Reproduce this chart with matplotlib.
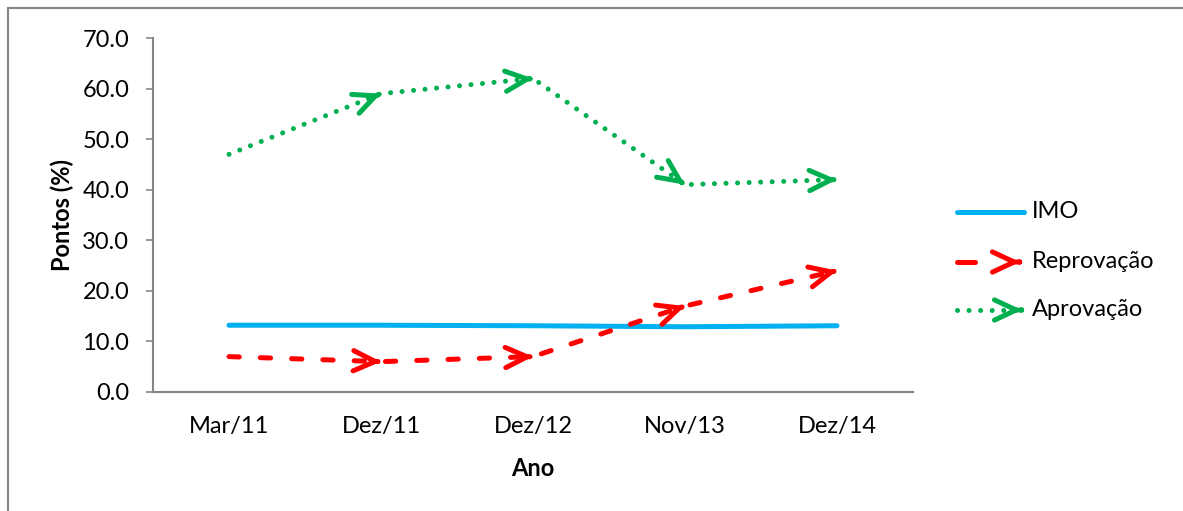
import matplotlib.pyplot as plt
import numpy as np
from matplotlib.lines import Line2D
from matplotlib.patches import Rectangle

plt.rcParams['font.family'] = ['Lato', 'DejaVu Sans']

# data
periodos = ['Mar/11', 'Dez/11', 'Dez/12', 'Nov/13', 'Dez/14']
imo = [13.2, 13.2, 13.1, 12.9, 13.1]
reprovacao = [7.0, 6.0, 7.0, 17.0, 24.0]
aprovacao = [47.0, 59.0, 62.0, 41.0, 42.0]

AZUL = '#00B0F0'
VERMELHO = '#FF0000'
VERDE = '#00B050'
CINZA = '#868686'
LW = 3.6
FS = 17
HEAD = '->,head_length=1.56,head_width=0.73'
DASHED = (0, (2.06, 4.2))
DOTTED = (0, (0.01, 2.3))


def arrow_head(ax, p0, p1, color, coords='data'):
    # tiny shaft along the segment so that only the head shows
    eps = 0.02
    start = (p1[0] - eps * (p1[0] - p0[0]), p1[1] - eps * (p1[1] - p0[1]))
    ax.annotate('', xy=p1, xytext=start, xycoords=coords, textcoords=coords,
                annotation_clip=False,
                arrowprops=dict(arrowstyle=HEAD, lw=LW, color=color,
                                shrinkA=0, shrinkB=0, mutation_scale=10,
                                capstyle='round', joinstyle='round'))


W, H = 1183, 511
fig = plt.figure(figsize=(W / 100, H / 100), dpi=100)
ax = fig.add_axes([153 / W, 1 - 392 / H, 760 / W, 354 / H])

x = np.arange(len(periodos))
ax.plot(x, imo, color=AZUL, lw=LW, solid_capstyle='round')
ax.plot(x, reprovacao, color=VERMELHO, lw=LW, linestyle=DASHED,
        dash_capstyle='round')
ax.plot(x, aprovacao, color=VERDE, lw=LW, linestyle=DOTTED,
        dash_capstyle='round')

ax.set_xlim(-0.5, len(periodos) - 0.5)
ax.set_ylim(0, 70)

for serie, cor in [(reprovacao, VERMELHO), (aprovacao, VERDE)]:
    for i in range(1, len(serie)):
        arrow_head(ax, (x[i - 1], serie[i - 1]), (x[i], serie[i]), cor)

ax.set_xticks(x)
ax.set_xticklabels(periodos)
ax.set_yticks(np.arange(0, 71, 10))
ax.set_yticklabels([f'{v:.1f}' for v in np.arange(0, 71, 10)])
ax.tick_params(axis='x', length=0, pad=17, labelsize=FS)
ax.tick_params(axis='y', length=5, width=1.2, color=CINZA, pad=12, labelsize=FS)

for s in ['top', 'right']:
    ax.spines[s].set_visible(False)
for s in ['left', 'bottom']:
    ax.spines[s].set_color(CINZA)
    ax.spines[s].set_linewidth(1.5)

ax.set_ylabel('Pontos (%)', fontsize=FS, fontweight='bold', labelpad=6)
ax.set_xlabel('Ano', fontsize=FS, fontweight='bold', labelpad=15)

# chart area border
fig.add_artist(Rectangle((8 / W, -0.1), 1.2, 1 - 8 / H + 0.1,
                         transform=fig.transFigure, fill=False,
                         edgecolor=CINZA, lw=1.5))

# legend drawn by hand
def fx(px):
    return px / W


def fy(py):
    return 1 - py / H


fig.add_artist(Line2D([fx(957), fx(1024)], [fy(212), fy(212)], color=AZUL,
                      lw=LW, solid_capstyle='round', transform=fig.transFigure))
fig.text(fx(1032), fy(212), 'IMO', fontsize=FS, va='center')

fig.add_artist(Line2D([fx(957), fx(975)], [fy(262), fy(262)], color=VERMELHO,
                      lw=LW, solid_capstyle='round', transform=fig.transFigure))
arrow_head(ax, (fx(990), fy(262)), (fx(1020), fy(262)), VERMELHO,
           coords='figure fraction')
fig.text(fx(1032), fy(262), 'Reprovação', fontsize=FS, va='center')

fig.add_artist(Line2D([fx(957), fx(1004)], [fy(310), fy(310)], color=VERDE,
                      lw=LW, linestyle=DOTTED, dash_capstyle='round',
                      transform=fig.transFigure))
arrow_head(ax, (fx(990), fy(310)), (fx(1022), fy(310)), VERDE,
           coords='figure fraction')
fig.text(fx(1032), fy(310), 'Aprovação', fontsize=FS, va='center')

fig.savefig('out.png', dpi=100)
